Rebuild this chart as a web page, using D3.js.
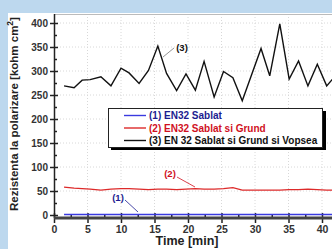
<!DOCTYPE html>
<html>
<head>
<meta charset="utf-8">
<script src="https://cdn.jsdelivr.net/npm/d3@7"></script>
<style>
	body { margin: 0; background: #bdd8ee; }
	svg { display: block; font-family: 'Liberation Sans', Arial, sans-serif; font-weight: bold; }
</style>
</head>
<body>
<svg></svg>
<script>
const width = 332;
const height = 249;

// time in minutes
const timeMin = [1.5, 3.0, 4.2, 5.4, 7.0, 8.5, 10.0, 11.2, 12.7, 14.1, 15.5, 16.8, 18.3, 19.7, 21.1,
	22.4, 23.9, 25.3, 26.7, 28.1, 30.9, 32.2, 33.7, 35.1, 36.5, 37.9, 39.3, 40.7, 42.0];
const rez1 = [1, 1, 1, 1, 1, 1, 1, 1, 1, 1, 1, 1, 1, 1, 1,
	1, 1, 1, 1, 1, 1, 1, 1, 1, 1, 1, 1, 1, 1];
const rez2 = [58, 56, 55, 54, 52, 54, 55, 55, 54, 53, 54, 54, 53, 54, 55,
	54, 54, 55, 57, 52, 52, 52, 52, 53, 53, 54, 53, 52, 52];
const rez3 = [269, 265, 281, 282, 288, 269, 306, 296, 274, 301, 352, 295, 259, 294, 260,
	320, 246, 299, 286, 238, 347, 290, 398, 283, 321, 269, 314, 269, 290];

const xTicks = [0, 5, 10, 15, 20, 25, 30, 35, 40];
const yTicks = [0, 50, 100, 150, 200, 250, 300, 350, 400];
const legendLabels = ['(1) EN32 Sablat', '(2) EN32 Sablat si Grund', '(3) EN 32 Sablat si Grund si Vopsea'];
const lineColors = ['#3a3ae0', '#dd2a2a', '#111'];
const textColors = ['#1c1c90', '#d0101e', '#111'];

const svg = d3.select('svg')
	.attr('width', width)
	.attr('height', height);

// white panel
svg.append('rect')
	.attr('x', 8).attr('y', 13)
	.attr('width', width).attr('height', height)
	.attr('fill', '#fff');

const x = d3.scaleLinear().domain([0, 40]).range([54, 322]);
const y = d3.scaleLinear().domain([0, 400]).range([215, 23]);

svg.append('clipPath').attr('id', 'plot')
	.append('rect')
	.attr('x', 54).attr('y', 14)
	.attr('width', width - 54).attr('height', 204);

// grid
const grid = svg.append('g').attr('stroke', '#d8d8d8').attr('stroke-dasharray', '1,2');
grid.selectAll('.gx')
	.data(xTicks.slice(1))
	.enter().append('line')
	.attr('x1', d => x(d)).attr('x2', d => x(d))
	.attr('y1', 14).attr('y2', 216);
grid.selectAll('.gy')
	.data(yTicks.slice(1))
	.enter().append('line')
	.attr('x1', 54).attr('x2', width)
	.attr('y1', d => y(d)).attr('y2', d => y(d));

// top frame
svg.append('line')
	.attr('x1', 54).attr('x2', width)
	.attr('y1', 14.5).attr('y2', 14.5)
	.attr('stroke', '#bbb');

// y axis
const yLeft = svg.append('g')
	.attr('transform', 'translate(54,0)')
	.call(d3.axisLeft(y).tickValues(yTicks).tickSize(4).tickPadding(2));
yLeft.select('.domain').remove();
yLeft.selectAll('line').attr('stroke', '#222').attr('stroke-width', 1.5);
yLeft.selectAll('text').attr('font-size', 10).attr('font-family', 'Liberation Sans').attr('font-weight', 'bold').attr('fill', '#333');

const yRight = svg.append('g')
	.attr('transform', 'translate(54,0)')
	.call(d3.axisRight(y).tickValues(yTicks).tickSize(4).tickFormat(''));
yRight.select('.domain').remove();
yRight.selectAll('line').attr('stroke', '#222').attr('stroke-width', 1.5);

const yMinor = svg.append('g')
	.attr('transform', 'translate(54,0)')
	.call(d3.axisRight(y).tickValues([25, 75, 125, 175, 225, 275, 325, 375]).tickSize(3).tickFormat(''));
yMinor.select('.domain').remove();
yMinor.selectAll('line').attr('stroke', '#222').attr('stroke-width', 1.5);

svg.append('line')
	.attr('x1', 54.5).attr('x2', 54.5)
	.attr('y1', 14).attr('y2', 218)
	.attr('stroke', '#222').attr('stroke-width', 1.5);

// x axis
const xBottom = svg.append('g')
	.attr('transform', 'translate(0,218)')
	.call(d3.axisBottom(x).tickValues(xTicks).tickSize(5).tickPadding(3));
xBottom.select('.domain').remove();
xBottom.selectAll('line').attr('stroke', '#222').attr('stroke-width', 1.5);
xBottom.selectAll('text').attr('font-size', 10.5).attr('font-family', 'Liberation Sans').attr('font-weight', 'bold').attr('fill', '#333');

const xTop = svg.append('g')
	.attr('transform', 'translate(0,218)')
	.call(d3.axisTop(x).tickValues(xTicks).tickSize(5).tickFormat(''));
xTop.select('.domain').remove();
xTop.selectAll('line').attr('stroke', '#222').attr('stroke-width', 1.5);

const xMinor = svg.append('g')
	.attr('transform', 'translate(0,218)')
	.call(d3.axisTop(x).tickValues([2.5, 7.5, 12.5, 17.5, 22.5, 27.5, 32.5, 37.5]).tickSize(3).tickFormat(''));
xMinor.select('.domain').remove();
xMinor.selectAll('line').attr('stroke', '#222').attr('stroke-width', 1.5);

svg.append('line')
	.attr('x1', 54).attr('x2', width)
	.attr('y1', 218).attr('y2', 218)
	.attr('stroke', '#444').attr('stroke-width', 3);

// series
const series = [rez1, rez2, rez3];
const line = d3.line()
	.x((d, i) => x(timeMin[i]))
	.y(d => y(d));

svg.append('g').attr('clip-path', 'url(#plot)')
	.selectAll('path')
	.data(series)
	.enter().append('path')
	.attr('fill', 'none')
	.attr('stroke', (d, i) => lineColors[i])
	.attr('stroke-width', (d, i) => i === 1 ? 1.2 : 1.4)
	.attr('d', line);

// annotations
const notes = [
	{ label: '(1)', tx: 118, ty: 201, x1: 125, y1: 200, x2: 138, y2: 212, color: '#1c1c90', lc: '#1c1c90' },
	{ label: '(2)', tx: 170, ty: 177, x1: 177, y1: 177, x2: 195, y2: 187, color: '#d0101e', lc: '#d0101e' },
	{ label: '(3)', tx: 182, ty: 51, x1: 174, y1: 48, x2: 163, y2: 57, color: '#111', lc: '#777' }
];
notes.forEach(n => {
	svg.append('line')
		.attr('x1', n.x1).attr('y1', n.y1)
		.attr('x2', n.x2).attr('y2', n.y2)
		.attr('stroke', n.lc).attr('stroke-width', 0.8);
	svg.append('text')
		.attr('x', n.tx).attr('y', n.ty)
		.attr('text-anchor', 'middle')
		.attr('font-size', 9.5)
		.attr('fill', n.color)
		.text(n.label);
});

// legend
const legend = svg.append('g');
legend.append('rect')
	.attr('x', 111).attr('y', 111)
	.attr('width', 215).attr('height', 39)
	.attr('fill', '#000');
legend.append('rect')
	.attr('x', 108.5).attr('y', 108.5)
	.attr('width', 214).attr('height', 39)
	.attr('fill', '#fff')
	.attr('stroke', '#222');
legendLabels.forEach((lab, i) => {
	const ly = 115.5 + i * 12.5;
	legend.append('line')
		.attr('x1', 124).attr('x2', 146)
		.attr('y1', ly).attr('y2', ly)
		.attr('stroke', lineColors[i]).attr('stroke-width', 1.4);
	legend.append('text')
		.attr('x', 149).attr('y', ly + 3.5)
		.attr('font-size', 10)
		.attr('fill', textColors[i])
		.text(lab);
});

// axis titles
const yTitle = svg.append('text')
	.attr('transform', 'translate(18,114) rotate(-90)')
	.attr('text-anchor', 'middle')
	.attr('font-size', 11.5)
	.attr('fill', '#222');
yTitle.append('tspan').text('Rezistenta la polarizare [kohm cm');
yTitle.append('tspan').attr('baseline-shift', 'super').attr('font-size', 8.5).text('2');
yTitle.append('tspan').text(']');

svg.append('text')
	.attr('x', 187).attr('y', 245)
	.attr('text-anchor', 'middle')
	.attr('font-size', 12.5)
	.attr('fill', '#222')
	.text('Time [min]');
</script>
</body>
</html>
